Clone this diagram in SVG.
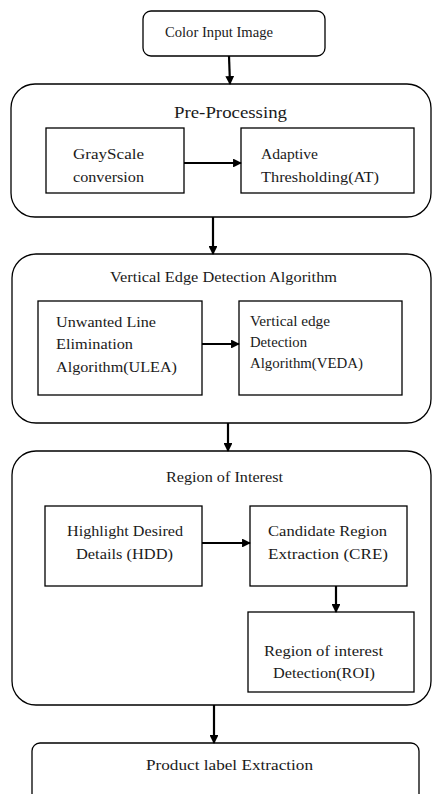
<svg xmlns="http://www.w3.org/2000/svg" width="433" height="794" viewBox="0 0 433 794">
<defs>
<marker id="ah" viewBox="0 0 10 10" refX="9" refY="5" markerWidth="4" markerHeight="4" orient="auto" markerUnits="strokeWidth">
<path d="M0,0 L10,5 L0,10 z" fill="#000"/>
</marker>
</defs>
<style>
.box{fill:#fff;stroke:#000;stroke-width:1.3}
.grp{fill:none;stroke:#000;stroke-width:1.3}
text{font-family:"Liberation Serif","Times New Roman",serif;fill:#1a1a1a;font-size:15px}
.t{font-size:17px}
.conn{stroke:#000;stroke-width:2.2;fill:none;marker-end:url(#ah)}
</style>
<rect width="433" height="794" fill="#fff"/>
<g id="input">
<rect class="box" x="143" y="11" width="182" height="45" rx="8"/>
<text x="165" y="37" textLength="108" lengthAdjust="spacingAndGlyphs" style="font-size:14px">Color Input Image</text>
</g>
<g id="preprocessing">
<rect class="grp" x="11" y="84" width="420" height="133" rx="24"/>
<text class="t" x="174" y="118" textLength="113" lengthAdjust="spacingAndGlyphs">Pre-Processing</text>
</g>
<g id="grayscale">
<rect class="box" x="46" y="128" width="138" height="65"/>
<text x="73" y="159" textLength="71" lengthAdjust="spacingAndGlyphs">GrayScale</text>
<text x="73" y="182" textLength="71" lengthAdjust="spacingAndGlyphs">conversion</text>
</g>
<g id="adaptive">
<rect class="box" x="241" y="128" width="173" height="65"/>
<text x="261" y="159" textLength="57" lengthAdjust="spacingAndGlyphs">Adaptive</text>
<text x="261" y="182" textLength="118" lengthAdjust="spacingAndGlyphs">Thresholding(AT)</text>
</g>
<g id="veda-group">
<rect class="grp" x="12" y="254" width="419" height="169" rx="24"/>
<text x="110" y="282" textLength="227" lengthAdjust="spacingAndGlyphs">Vertical Edge Detection Algorithm</text>
</g>
<g id="ulea">
<rect class="box" x="38" y="301" width="164" height="94"/>
<text x="56" y="327" textLength="100" lengthAdjust="spacingAndGlyphs">Unwanted Line</text>
<text x="56" y="349" textLength="77" lengthAdjust="spacingAndGlyphs">Elimination</text>
<text x="56" y="372" textLength="121" lengthAdjust="spacingAndGlyphs">Algorithm(ULEA)</text>
</g>
<g id="veda">
<rect class="box" x="239" y="301" width="163" height="94"/>
<text x="250" y="326" textLength="80" lengthAdjust="spacingAndGlyphs" style="font-size:14px">Vertical edge</text>
<text x="250" y="347" textLength="57" lengthAdjust="spacingAndGlyphs" style="font-size:14px">Detection</text>
<text x="250" y="368" textLength="113" lengthAdjust="spacingAndGlyphs" style="font-size:14px">Algorithm(VEDA)</text>
</g>
<g id="roi-group">
<rect class="grp" x="12" y="451" width="419" height="254" rx="24"/>
<text x="166" y="482" textLength="117" lengthAdjust="spacingAndGlyphs">Region of Interest</text>
</g>
<g id="hdd">
<rect class="box" x="45" y="506" width="157" height="80"/>
<text x="67" y="536" textLength="116" lengthAdjust="spacingAndGlyphs">Highlight Desired</text>
<text x="76" y="559" textLength="97" lengthAdjust="spacingAndGlyphs">Details (HDD)</text>
</g>
<g id="cre">
<rect class="box" x="250" y="506" width="157" height="80"/>
<text x="268" y="536" textLength="119" lengthAdjust="spacingAndGlyphs">Candidate Region</text>
<text x="268" y="559" textLength="120" lengthAdjust="spacingAndGlyphs">Extraction  (CRE)</text>
</g>
<g id="roi">
<rect class="box" x="248" y="612" width="166" height="80"/>
<text x="264" y="656" textLength="119" lengthAdjust="spacingAndGlyphs">Region of interest</text>
<text x="273" y="678" textLength="102" lengthAdjust="spacingAndGlyphs">Detection(ROI)</text>
</g>
<g id="product">
<rect class="box" x="32" y="743" width="387" height="70" rx="8"/>
<text x="146" y="770" textLength="167" lengthAdjust="spacingAndGlyphs">Product  label  Extraction</text>
</g>
<g id="connectors">
<path class="conn" d="M229,56 L230,84"/>
<path class="conn" d="M184,163 L241,163"/>
<path class="conn" d="M213,217 L213,254"/>
<path class="conn" d="M202,344 L239,344"/>
<path class="conn" d="M228,423 L228,451"/>
<path class="conn" d="M202,543 L250,543"/>
<path class="conn" d="M336,586 L336,612"/>
<path class="conn" d="M214,705 L214,743"/>
</g>
</svg>
